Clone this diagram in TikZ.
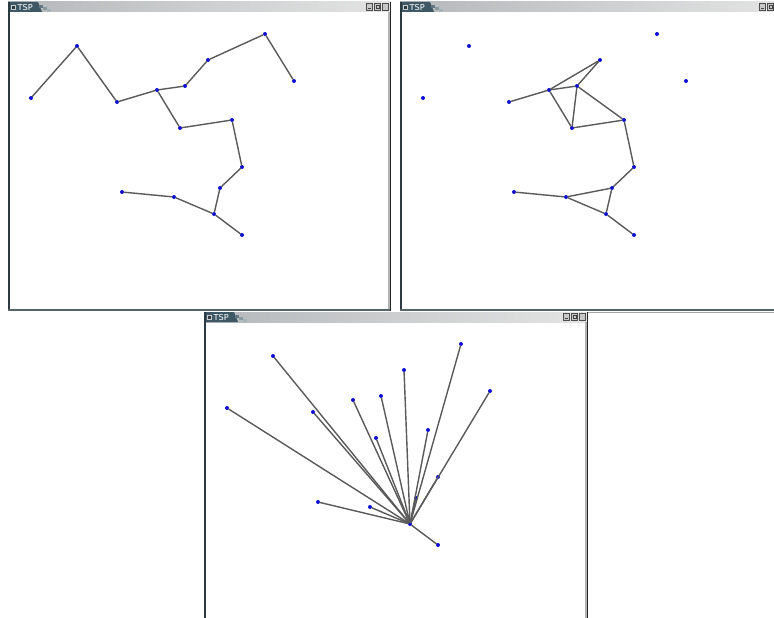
\documentclass[tikz,border=0pt]{standalone}
\usepackage{fontspec}
\newfontfamily\titlefont{DejaVu Sans}
\definecolor{ptblue}{HTML}{1010D0}
\definecolor{edgegray}{HTML}{5A5A5A}
\definecolor{tabcol}{HTML}{3E5866}
\definecolor{bordcol}{HTML}{2C3B42}
\definecolor{botcol}{HTML}{55656A}
\definecolor{tbL}{HTML}{B4B8BA}
\definecolor{tbR}{HTML}{E4E4E4}
\definecolor{btncol}{HTML}{C8C8C8}
\newcommand\tspwin[5]{%
  \fill[white] (#1,#2) rectangle (#3,#4);
  \shade[left color=tbL,right color=tbR] (#1,#2) rectangle (#3,#2+10);
  \fill[tabcol] (#1,#2) -- (#1+30,#2) -- (#1+34,#2+10) -- (#1,#2+10) -- cycle;
  \fill[tabcol!80] (#1+31,#2+3) rectangle (#1+35,#2+6);
  \fill[tabcol!60] (#1+35,#2+5) rectangle (#1+39,#2+8);
  \fill[tabcol!45] (#1+39,#2+7) rectangle (#1+43,#2+10);
  \fill[bordcol] (#1+3,#2+3) rectangle (#1+8,#2+8);
  \draw[white!70!tabcol,line width=0.5pt] (#1+3.5,#2+3.5) rectangle (#1+7.5,#2+7.5);
  \node[text=white,font=\titlefont\fontsize{8.2}{8}\selectfont,anchor=west,inner sep=0pt] (#5title) at (#1+9.5,#2+5.4) {TSP};
  \foreach \k in {0,1,2} {
    \filldraw[fill=btncol,draw=gray!60!black,line width=0.5pt] (#3-25+8*\k,#2+1.5) rectangle (#3-18.5+8*\k,#2+8.5);
  }
  \draw[gray!50!black,line width=0.6pt] (#3-23.5,#2+6.5) -- (#3-20,#2+6.5);
  \draw[gray!50!black,line width=0.6pt] (#3-15,#2+3.5) rectangle (#3-12,#2+6.5);
  \fill[bordcol] (#1,#2) rectangle (#1+2.2,#4);
  \fill[botcol] (#1,#4-2.5) rectangle (#3,#4);
  \fill[black!85] (#3-1.5,#2) rectangle (#3,#4);
  \fill[gray!60] (#3-3,#2+10) rectangle (#3-1.5,#4-2.5);
}
\begin{document}
\begin{tikzpicture}[x=1pt,y=-1pt,
  dot/.style={circle,fill=ptblue,inner sep=0pt,minimum size=4pt},
  edge/.style={draw=edgegray,line width=1.4pt,line cap=round}]
\useasboundingbox (0,0) rectangle (774,618);
\fill[white] (0,0) rectangle (774,618);
% windows
\tspwin{8}{2}{391}{311}{wa}
\tspwin{400}{2}{784}{311}{wb}
\fill[gray!70] (392,311.5) rectangle (774,313);
\tspwin{204}{312}{588}{626}{wc}
% points
\foreach \w/\dx/\dy in {a/0/0,b/392/0,c/196/310} {
  \begin{scope}[shift={(\dx,\dy)}]
  \foreach \n/\x/\y in {A/31/98,B/77/46,C/117/102,D/157/90,E/185/86,F/208/60,G/265/34,H/294/81,I/180/128,J/232/120,K/242/167,L/220/188,M/214/214,N/174/197,O/122/192,P/242/235}
    \node[dot] (\w\n) at (\x,\y) {};
  \end{scope}
}
% window 1: tree
\foreach \u/\v in {A/B,B/C,C/D,D/E,E/F,F/G,G/H,D/I,I/J,J/K,K/L,L/M,M/N,N/O,M/P}
  \draw[edge] (a\u) -- (a\v);
% window 2
\foreach \u/\v in {C/D,D/F,E/F,D/E,D/I,E/I,E/J,I/J,J/K,K/L,L/M,L/N,N/M,N/O,M/P}
  \draw[edge] (b\u) -- (b\v);
% window 3: star
\foreach \v in {A,B,C,D,E,F,G,H,I,J,K,L,N,O,P}
  \draw[edge] (cM) -- (c\v);
\end{tikzpicture}
\end{document}
